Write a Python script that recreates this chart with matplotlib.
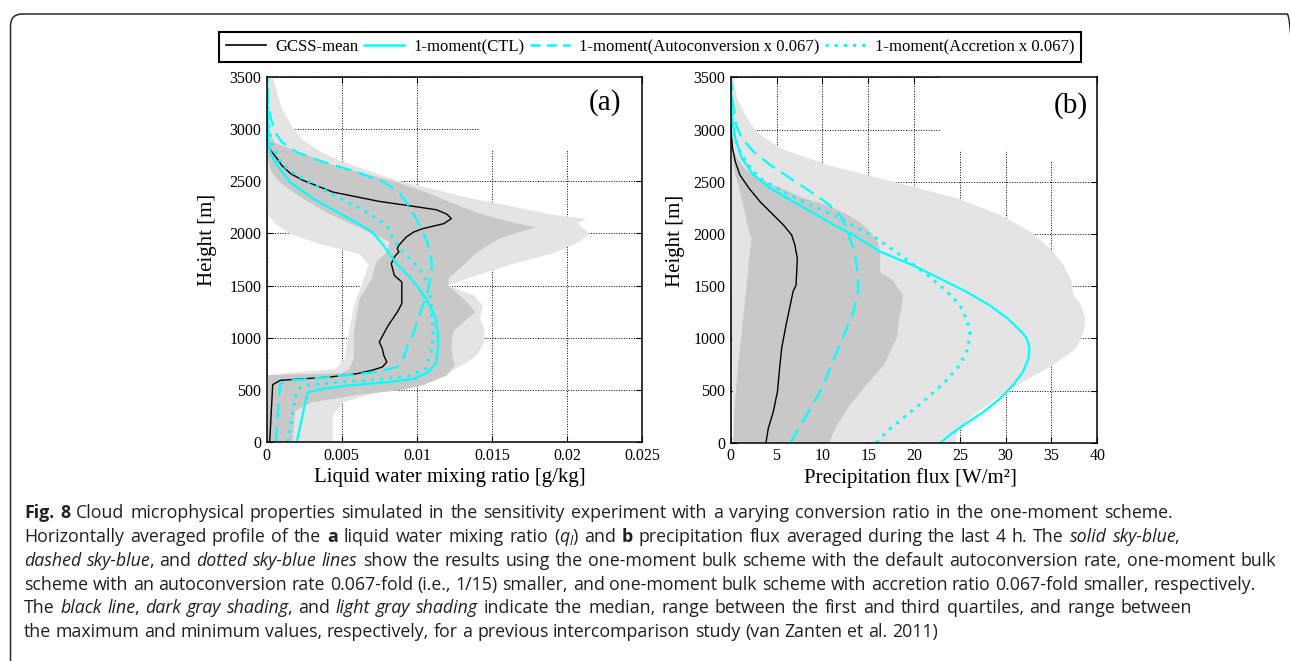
import numpy as np
import matplotlib
matplotlib.use('Agg')
import matplotlib.pyplot as plt
from matplotlib.patches import FancyBboxPatch, Rectangle
from matplotlib.lines import Line2D
from matplotlib.transforms import IdentityTransform

# ---------------- data ----------------
heights_ticks = [0, 500, 1000, 1500, 2000, 2500, 3000, 3500]
height_labels = ['0', '500', '1000', '1500', '2000', '2500', '3000', '3500']
a_xticks = [0, 0.005, 0.01, 0.015, 0.02, 0.025]
a_xlabels = ['0', '0.005', '0.01', '0.015', '0.02', '0.025']
b_xticks = [0, 5, 10, 15, 20, 25, 30, 35, 40]
b_xlabels = ['0', '5', '10', '15', '20', '25', '30', '35', '40']

legend_labels = ['GCSS-mean', '1-moment(CTL)', '1-moment(Autoconversion x 0.067)',
                 '1-moment(Accretion x 0.067)']

# panel (a): liquid water mixing ratio [g/kg]
a_max_h = [0, 250, 380, 450, 540, 600, 671, 760, 831, 959, 1087, 1183, 1310, 1406, 1502, 1566, 1698,
           1820, 1920, 2000, 2045, 2100, 2140, 2180, 2260, 2330, 2420, 2500, 2600, 2700, 2800, 2900,
           3000, 3200, 3500]
a_max_x = [0.0044, 0.0044, 0.0051, 0.0067, 0.0095, 0.0112, 0.0122, 0.0133, 0.0140, 0.0145, 0.0145,
           0.0142, 0.0144, 0.0138, 0.0121, 0.0133, 0.0162, 0.0193, 0.0208, 0.0215, 0.0211, 0.0207,
           0.0213, 0.0190, 0.0163, 0.0138, 0.0112, 0.0089, 0.0068, 0.0048, 0.0034, 0.0024, 0.0018,
           0.0010, 0.0004]
a_min_h = [0, 640, 660, 700, 800, 1000, 1300, 1500, 1700, 1800, 1900, 2000, 2100, 2200, 3500]
a_min_x = [0, 0, 0.0012, 0.0046, 0.0052, 0.0054, 0.0058, 0.0063, 0.0068, 0.0062, 0.0035, 0.0015,
           0.0005, 0, 0]
a_q3_h = [0, 300, 380, 450, 500, 543, 639, 735, 895, 1055, 1150, 1246, 1374, 1500, 1566, 1694, 1820,
          1950, 2000, 2060, 2100, 2173, 2200, 2300, 2400, 2500, 2650, 2800, 2870, 3000]
a_q3_x = [0.0017, 0.0019, 0.0030, 0.0060, 0.0090, 0.0104, 0.0120, 0.0125, 0.0123, 0.0124, 0.0131,
          0.0139, 0.0131, 0.0121, 0.0121, 0.0131, 0.0140, 0.0155, 0.0165, 0.0179, 0.0165, 0.0146,
          0.0140, 0.0122, 0.0105, 0.0085, 0.0045, 0.0018, 0.0005, 0.0002]
a_q1_h = [0, 600, 640, 660, 700, 800, 1055, 1374, 1566, 1726, 1822, 1918, 2000, 2100, 2200, 2300,
          2400, 2500, 2600, 2750, 3000]
a_q1_x = [0, 0, 0, 0.0050, 0.0055, 0.0058, 0.0058, 0.0062, 0.0070, 0.0073, 0.0080, 0.0082, 0.0070,
          0.0055, 0.0040, 0.0028, 0.0017, 0.0008, 0.0003, 0, 0]

a_gcss_h = [0, 550, 591, 623, 655, 687, 719, 767, 830, 895, 959, 1040, 1119, 1246, 1326, 1438, 1534,
            1598, 1709, 1774, 1822, 1854, 1886, 1966, 2014, 2046, 2094, 2142, 2185, 2227, 2270, 2307,
            2397, 2510, 2573, 2653, 2716, 2809, 2870, 3000, 3500]
a_gcss_x = [0.0002, 0.0004, 0.0009, 0.0042, 0.0060, 0.0070, 0.0077, 0.0080, 0.0078, 0.0077, 0.0075,
            0.0078, 0.0081, 0.0087, 0.0090, 0.0090, 0.0090, 0.0085, 0.0083, 0.0085, 0.0088, 0.0087,
            0.0088, 0.0093, 0.0098, 0.0104, 0.0118, 0.0123, 0.0120, 0.0113, 0.0093, 0.0075, 0.0044,
            0.0024, 0.0016, 0.0010, 0.0007, 0.0002, 0.0001, 0.00005, 0.00002]
a_ctl_h = [0, 463, 479, 511, 543, 575, 607, 671, 767, 895, 1055, 1214, 1374, 1500, 1600, 1700, 1800,
           1900, 2014, 2077, 2173, 2333, 2493, 2653, 2760, 2870, 3132, 3500]
a_ctl_x = [0.0020, 0.0027, 0.0028, 0.0038, 0.0055, 0.0082, 0.0098, 0.0108, 0.0113, 0.0114, 0.0114,
           0.0112, 0.0106, 0.0100, 0.0094, 0.0087, 0.0082, 0.0077, 0.0070, 0.0063, 0.0051, 0.0031,
           0.00155, 0.0007, 0.00027, 0.0001, 0.00004, 0.00002]
a_auto_h = [0, 559, 591, 623, 671, 719, 799, 927, 1055, 1183, 1310, 1438, 1566, 1694, 1822, 1950,
            2077, 2205, 2301, 2397, 2493, 2589, 2684, 2780, 2876, 2972, 3132, 3292, 3500]
a_auto_x = [0.0006, 0.0009, 0.0017, 0.0042, 0.0073, 0.0087, 0.0091, 0.0094, 0.0098, 0.0101, 0.0104,
            0.0107, 0.0109, 0.0110, 0.0109, 0.0106, 0.0102, 0.0097, 0.0093, 0.0088, 0.0078, 0.0060,
            0.0038, 0.0020, 0.0010, 0.00055, 0.00022, 0.00007, 0.00002]
a_accr_h = [0, 495, 511, 543, 575, 607, 639, 703, 799, 895, 1055, 1214, 1374, 1534, 1662, 1790, 1886,
            1982, 2077, 2205, 2333, 2461, 2557, 2653, 2748, 2844, 2972, 3200, 3500]
a_accr_x = [0.0014, 0.0020, 0.0021, 0.0025, 0.0050, 0.0080, 0.0095, 0.0106, 0.0108, 0.0110, 0.0111,
            0.0110, 0.0109, 0.0107, 0.0102, 0.0093, 0.0087, 0.0083, 0.0080, 0.0067, 0.0049, 0.0033,
            0.0020, 0.0011, 0.00067, 0.0004, 0.00018, 0.00005, 0.00002]

# panel (b): precipitation flux [W/m2]
b_max_h = [0, 137, 265, 424, 457, 584, 744, 904, 1063, 1191, 1319, 1415, 1542, 1702, 1862, 2022,
           2182, 2341, 2501, 2661, 2820, 2980, 3139, 3299, 3500]
b_max_x = [24.5, 24.8, 26.5, 29.0, 29.7, 31.9, 35.2, 37.7, 38.5, 38.7, 38.2, 37.4, 37.2, 36.3, 34.8,
           32.7, 29.4, 24.7, 17.7, 10.5, 5.4, 2.8, 1.6, 0.7, 0.3]
b_min_h = [0, 1000, 2000, 3500]
b_min_x = [0.3, 0.15, 0.0, 0.0]
b_q3_h = [0, 57, 169, 361, 552, 744, 999, 1191, 1319, 1415, 1574, 1622, 1669, 1830, 1925, 2022,
          2117, 2182, 2277, 2341, 2437, 2533, 2629, 2725, 2820, 2900]
b_q3_x = [10.8, 11.0, 11.6, 13.0, 14.8, 16.7, 18.1, 18.4, 18.7, 18.8, 17.5, 16.4, 16.3, 16.3, 16.0,
          15.2, 14.0, 12.8, 10.5, 8.0, 5.5, 3.0, 1.5, 0.7, 0.25, 0.05]
b_q1_h = [0, 300, 744, 1383, 1830, 1958, 2022, 2341, 2600, 2900]
b_q1_x = [0.3, 0.4, 0.8, 1.6, 2.1, 2.3, 2.0, 1.2, 0.4, 0.02]

b_gcss_h = [0, 137, 297, 489, 680, 904, 1128, 1319, 1447, 1510, 1638, 1766, 1894, 1990, 2086, 2182,
            2309, 2437, 2565, 2693, 2820, 2980, 3200, 3500]
b_gcss_x = [3.85, 4.1, 4.65, 5.1, 5.3, 5.56, 6.04, 6.5, 6.8, 7.13, 7.2, 7.27, 7.0, 6.65, 5.75, 4.65,
            3.2, 2.0, 1.0, 0.5, 0.2, 0.05, 0.02, 0.0]
b_ctl_h = [0, 73, 169, 297, 424, 552, 680, 808, 904, 1000, 1063, 1191, 1319, 1447, 1574, 1702, 1830,
           1990, 2086, 2182, 2309, 2437, 2565, 2725, 2914, 3139, 3500]
b_ctl_x = [22.9, 23.9, 25.4, 27.6, 29.4, 30.8, 31.9, 32.5, 32.6, 32.3, 31.7, 30.2, 28.2, 25.7, 22.8,
           19.8, 16.3, 13.4, 11.2, 9.4, 6.8, 4.3, 2.5, 1.2, 0.5, 0.1, 0.0]
b_auto_h = [0, 137, 297, 489, 680, 872, 1063, 1255, 1447, 1638, 1830, 1958, 2086, 2182, 2277, 2405,
            2533, 2661, 2788, 2914, 3043, 3139, 3299, 3500]
b_auto_x = [6.55, 7.4, 8.5, 9.75, 10.7, 11.6, 12.5, 13.4, 13.9, 13.85, 13.5, 13.0, 12.5, 11.9, 10.8,
            8.7, 6.5, 4.3, 2.5, 1.2, 0.6, 0.4, 0.2, 0.0]
b_accr_h = [0, 105, 265, 424, 584, 744, 904, 1063, 1191, 1319, 1447, 1574, 1702, 1830, 1958, 2054,
            2150, 2277, 2405, 2533, 2661, 2820, 2980, 3200, 3500]
b_accr_x = [15.9, 17.0, 19.2, 21.4, 23.4, 25.0, 25.9, 26.1, 25.7, 25.0, 23.6, 21.9, 20.0, 18.0, 15.9,
            13.9, 11.9, 8.7, 5.7, 3.2, 1.9, 0.8, 0.3, 0.08, 0.0]

caption_lines = [
    [("Fig. 8", "b"), (" Cloud microphysical properties simulated in the sensitivity experiment with a "
                       "varying conversion ratio in the one-moment scheme.", "n")],
    [("Horizontally averaged profile of the ", "n"), ("a", "b"), (" liquid water mixing ratio (", "n"),
     ("q", "i"), ("l", "sub"), (") and ", "n"), ("b", "b"),
     (" precipitation flux averaged during the last 4 h. The ", "n"), ("solid sky-blue", "i"), (",", "n")],
    [("dashed sky-blue", "i"), (", and ", "n"), ("dotted sky-blue lines", "i"),
     (" show the results using the one-moment bulk scheme with the default autoconversion rate, "
      "one-moment bulk", "n")],
    [("scheme with an autoconversion rate 0.067-fold (i.e., 1/15) smaller, and one-moment bulk scheme "
      "with accretion ratio 0.067-fold smaller, respectively.", "n")],
    [("The ", "n"), ("black line", "i"), (", ", "n"), ("dark gray shading", "i"), (", and ", "n"),
     ("light gray shading", "i"),
     (" indicate the median, range between the first and third quartiles, and range between", "n")],
    [("the maximum and minimum values, respectively, for a previous intercomparison study "
      "(van Zanten et al. 2011)", "n")],
]

# ---------------- layout / style ----------------
W, H = 1290, 661
CYAN = '#00ffff'
LIGHT = '#e4e4e4'
DARK = '#c8c8c8'
plt.rcParams['font.family'] = ['Liberation Serif', 'DejaVu Serif']

fig = plt.figure(figsize=(W / 100, H / 100), dpi=100)
fig.patch.set_facecolor('white')


def ax_rect(l, t, r, b):
    return [l / W, 1 - b / H, (r - l) / W, (b - t) / H]


axa = fig.add_axes(ax_rect(266.7, 77, 642, 442))
axb = fig.add_axes(ax_rect(730.7, 77.3, 1097.3, 442.7))

DASH = (0, (7, 3.5))
DOT = (0, (1, 2.0))


def draw_panel(ax, mx_h, mx_x, mn_h, mn_x, q3_h, q3_x, q1_h, q1_x, g_h, g_x, c_h, c_x, au_h, au_x,
               ac_h, ac_x):
    ax.fill(np.r_[mx_x, mn_x[::-1]], np.r_[mx_h, mn_h[::-1]], color=LIGHT, lw=0, zorder=1)
    ax.fill(np.r_[q3_x, q1_x[::-1]], np.r_[q3_h, q1_h[::-1]], color=DARK, lw=0, zorder=1.1)
    ax.plot(g_x, g_h, color='black', lw=1.0, zorder=3)
    ax.plot(c_x, c_h, color=CYAN, lw=1.6, zorder=3)
    ax.plot(au_x, au_h, color=CYAN, lw=1.6, ls=DASH, zorder=3)
    ax.plot(ac_x, ac_h, color=CYAN, lw=2.2, ls=DOT, zorder=3)


draw_panel(axa, a_max_h, a_max_x, a_min_h, a_min_x, a_q3_h, a_q3_x, a_q1_h, a_q1_x,
           a_gcss_h, a_gcss_x, a_ctl_h, a_ctl_x, a_auto_h, a_auto_x, a_accr_h, a_accr_x)
draw_panel(axb, b_max_h, b_max_x, b_min_h, b_min_x, b_q3_h, b_q3_x, b_q1_h, b_q1_x,
           b_gcss_h, b_gcss_x, b_ctl_h, b_ctl_x, b_auto_h, b_auto_x, b_accr_h, b_accr_x)


def style(ax, xlim, xt, xl, xlabel, letter, lx, ly, ylx, xlx, covers):
    ax.set_xlim(*xlim)
    ax.set_ylim(0, 3500)
    ax.set_xticks(xt, xl)
    ax.set_yticks(heights_ticks, height_labels)
    ax.set_axisbelow(True)
    ax.grid(True, color='black', ls=(0, (1, 1.6)), lw=0.7)
    ax.tick_params(direction='in', top=True, right=True, length=4, width=0.8, labelsize=11.5, pad=4,
                   colors='black')
    for s in ax.spines.values():
        s.set_linewidth(1.1)
        s.set_zorder(5)
    ax.set_ylabel('Height [m]', fontsize=15)
    ax.yaxis.set_label_coords(ylx, 0.553)
    ax.yaxis.label.set_va('center')
    ax.set_xlabel(xlabel, fontsize=15)
    ax.xaxis.set_label_coords(xlx, -0.096)
    ax.xaxis.label.set_va('center')
    for (x0, y0, x1, y1) in covers:
        ax.add_patch(Rectangle((x0, y0), x1 - x0, y1 - y0, facecolor='white', edgecolor='none',
                               zorder=0.8))
    ax.text(lx, ly, letter, transform=ax.transAxes, fontsize=21, ha='center', va='center', zorder=6)


style(axa, (0, 0.025), a_xticks, a_xlabels, 'Liquid water mixing ratio [g/kg]', '(a)', 0.901, 0.929,
      -0.159, 0.488, [(0.0142, 2790, 0.025, 3500)])
style(axb, (0, 40), b_xticks, b_xlabels, 'Precipitation flux [W/m²]', '(b)', 0.928, 0.924,
      -0.151, 0.489, [(22.8, 2794, 40, 3500), (33.5, 2690, 36.5, 2800)])

# legend
handles = [Line2D([], [], color='black', lw=1.2),
           Line2D([], [], color=CYAN, lw=1.8),
           Line2D([], [], color=CYAN, lw=1.8, ls=(0, (4, 2.5))),
           Line2D([], [], color=CYAN, lw=2.2, ls=DOT)]
leg = fig.legend(handles, legend_labels, loc='center', bbox_to_anchor=(650 / W, 1 - 47 / H), ncol=4,
                 frameon=True, fancybox=False, edgecolor='black', fontsize=12, handlelength=2.4,
                 handletextpad=0.55, columnspacing=0.35, borderpad=0.42, borderaxespad=0)
leg.get_frame().set_linewidth(1.5)
leg.get_frame().set_alpha(1)

# outer rounded border
border = FancyBboxPatch((10.5, -40), 1299 - 10.5, (H - 14) + 40,
                        boxstyle='round,pad=0,rounding_size=12', transform=IdentityTransform(),
                        fill=False, edgecolor='#2a2a2a', lw=1.1, clip_on=False)
fig.add_artist(border)

# caption
CAP_FONT = ['Open Sans', 'Noto Sans', 'DejaVu Sans']
CAP_COLOR = '#231f20'
renderer = fig.canvas.get_renderer()


def kw_for(kind, size):
    if kind == 'b':
        return dict(fontsize=size, weight='bold', style='normal')
    if kind == 'i':
        return dict(fontsize=size, weight='normal', style='italic')
    if kind == 'sub':
        return dict(fontsize=size * 0.72, weight='normal', style='italic')
    return dict(fontsize=size, weight='normal', style='normal')


def measure(s, kind, size):
    kw = kw_for(kind, size)
    t = fig.text(0, 0, 'x' + s + 'x', family=CAP_FONT, **kw)
    w1 = t.get_window_extent(renderer).width
    t.set_text('xx')
    w2 = t.get_window_extent(renderer).width
    t.remove()
    return w1 - w2


x_left = 24
right_ends = [1210, 1267, 1277, 1252, 1236, None]
base = 10.0
fits = []
for line, r in zip(caption_lines[:5], right_ends[:5]):
    nat = sum(measure(s, k, base) for s, k in line)
    fits.append(base * (r - x_left) / nat)
cap_size = float(min(fits))

baselines = [518, 542, 566, 590, 613, 637]
for line, yb, r in zip(caption_lines, baselines, right_ends):
    nat = sum(measure(s, k, cap_size) for s, k in line)
    nspaces = sum(s.count(' ') for s, k in line)
    extra = 0.0 if r is None else (r - x_left - nat) / max(nspaces, 1)
    extra = float(np.clip(extra, 0.0, 1.2))
    x = x_left
    prev_kind = None
    for s, k in line:
        kw = kw_for(k, cap_size)
        y = yb + (3 if k == 'sub' else 0)
        if prev_kind == 'i' and k == 'n' and not s.startswith(' '):
            x -= 1.5
        sp = measure(' ', k, cap_size) + extra
        toks = s.split(' ')
        for i, tok in enumerate(toks):
            if i > 0:
                x += sp
            if tok:
                fig.text(x / W, 1 - y / H, tok, family=CAP_FONT, color=CAP_COLOR, va='baseline',
                         ha='left', **kw)
                x += measure(tok, k, cap_size)
        prev_kind = k

fig.savefig('out.png', dpi=100, facecolor='white')
